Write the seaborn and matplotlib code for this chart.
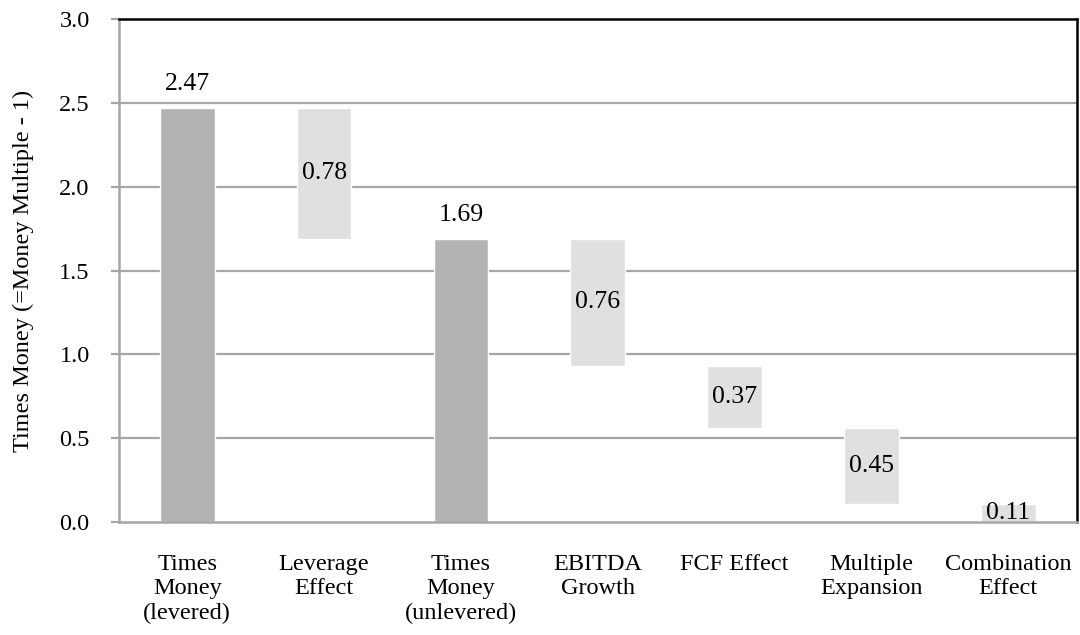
import numpy as np
import pandas as pd
import matplotlib
matplotlib.use("Agg")
import matplotlib.pyplot as plt
import seaborn as sns

# Waterfall components of the money multiple
categories = ["Times\nMoney\n(levered)", "Leverage\nEffect", "Times\nMoney\n(unlevered)",
              "EBITDA\nGrowth", "FCF Effect", "Multiple\nExpansion", "Combination\nEffect"]
values = [2.47, 0.78, 1.69, 0.76, 0.37, 0.45, 0.11]
is_total = [True, False, True, False, False, False, False]
y_ticks = [0.0, 0.5, 1.0, 1.5, 2.0, 2.5, 3.0]

# Floating bars step down from the levered total
bottoms = []
level = 0.0
for v, tot in zip(values, is_total):
    if tot:
        bottoms.append(0.0)
        level = v
    else:
        level -= v
        bottoms.append(max(level, 0.0))

df = pd.DataFrame({"cat": categories, "value": values, "bottom": bottoms, "total": is_total})
totals = df[df["total"]]
deltas = df[~df["total"]]

sns.set_theme(style="white", rc={"text.color": "black", "axes.labelcolor": "black",
                                 "xtick.color": "black", "ytick.color": "black"})
plt.rcParams["font.family"] = ["Liberation Serif", "DejaVu Serif"]

fig = plt.figure(figsize=(10.8, 6.35), dpi=100)
ax = fig.add_axes([0.110, 0.178, 0.887, 0.792])

dark = "#b3b3b3"
light = "#e0e0e0"
grid_c = "#a6a6a6"

for y in y_ticks[1:-1]:
    ax.axhline(y, color=grid_c, lw=1.6, zorder=0)

sns.barplot(data=totals, x="cat", y="value", order=categories, color=dark,
            width=0.4, errorbar=None, saturation=1, bottom=totals["bottom"].values,
            ax=ax, zorder=2)
sns.barplot(data=deltas, x="cat", y="value", order=categories, color=light,
            width=0.4, errorbar=None, saturation=1, bottom=deltas["bottom"].values,
            ax=ax, zorder=2)

# Value labels: above totals, centred inside the floating bars
for i, (v, b, tot) in enumerate(zip(values, bottoms, is_total)):
    if tot:
        ax.annotate(f"{v:.2f}", (i, b + v), xytext=(0, 9), textcoords="offset points",
                    ha="center", va="bottom", fontsize=18.5, color="black", zorder=3)
    else:
        ax.text(i, b + v / 2, f"{v:.2f}", ha="center", va="center",
                fontsize=18.5, color="black", zorder=3)

ax.set_xlim(-0.5, len(categories) - 0.5)
ax.set_ylim(0, 3.0)
ax.set_yticks(y_ticks)
ax.set_yticklabels([f"{t:.1f}" for t in y_ticks], fontsize=17.5)
ax.set_xticks(range(len(categories)))
ax.set_xticklabels(categories, fontsize=17.5, linespacing=1.22)
ax.set_xticks(np.arange(-0.5, len(categories)), minor=True)
ax.tick_params(axis="x", which="major", length=0, pad=23, labelcolor="black")
ax.tick_params(axis="x", which="minor", length=6, width=1.6, color=grid_c, direction="out")
ax.tick_params(axis="y", which="major", length=6, width=1.6, color=grid_c, direction="out",
               left=True, pad=15, labelcolor="black")
ax.set_xlabel("")
ax.set_ylabel("Times Money (=Money Multiple - 1)", fontsize=17.5, labelpad=18, color="black")

for side in ["left", "bottom"]:
    ax.spines[side].set_color(grid_c)
    ax.spines[side].set_linewidth(1.8)
for side in ["top", "right"]:
    ax.spines[side].set_color("black")
    ax.spines[side].set_linewidth(1.8)
    ax.spines[side].set_visible(True)

fig.savefig("out.png", dpi=100, facecolor="white")
